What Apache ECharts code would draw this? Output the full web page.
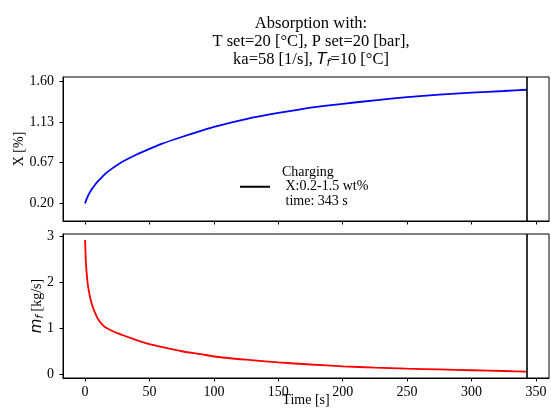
<!DOCTYPE html>
<html>
<head>
<meta charset="utf-8">
<script src="https://cdn.jsdelivr.net/npm/echarts@6/dist/echarts.min.js"></script>
<style>html,body{margin:0;padding:0;background:#fff;}#c{width:551px;height:416px;}</style>
</head>
<body>
<div id="c"></div>
<script>
const time = [0,0.5,1,2,3,4,5,6,8,10,13,16,20,25,30,40,50,60,75,90,100,125,150,175,200,225,250,275,300,325,343];
const xPct = [0.20,0.225,0.245,0.28,0.31,0.335,0.36,0.38,0.42,0.455,0.50,0.545,0.59,0.64,0.685,0.76,0.825,0.885,0.96,1.03,1.075,1.165,1.235,1.295,1.34,1.38,1.415,1.445,1.468,1.486,1.50];
const mf = [2.93,2.50,2.28,1.98,1.80,1.66,1.55,1.46,1.32,1.20,1.09,1.015,0.955,0.89,0.84,0.74,0.65,0.585,0.495,0.43,0.38,0.31,0.25,0.205,0.165,0.138,0.115,0.097,0.08,0.063,0.05];
const timeTicks = [0,50,100,150,200,250,300,350];
const xPctTicks = [0.2,0.66667,1.13333,1.6];
const xPctTickLabels = ['0.20','0.67','1.13','1.60'];
const mfTicks = [0,1,2,3];
const chargeEnd = 343;
const legendLabel = 'Charging\n X:0.2-1.5 wt%\n time: 343 s';

const FONT = 'Liberation Serif';
const tickStyle = {fontFamily: FONT, fontSize: 14, color: '#000'};
const chart = echarts.init(document.getElementById('c'), null, {renderer: 'canvas'});

function xAxisCfg(idx, showLabels) {
  return {
    type: 'value', gridIndex: idx, min: -17.15, max: 360.15,
    splitLine: {show: false},
    axisLine: {show: true, onZero: false, lineStyle: {color: '#000', width: 1}},
    axisTick: {show: true, inside: false, length: 3.5, lineStyle: {color: '#000', width: 1}, customValues: timeTicks},
    axisLabel: {show: showLabels, margin: 7, customValues: timeTicks, ...tickStyle},
    name: showLabels ? 'Time [s]' : '',
    nameLocation: 'middle', nameGap: 15, nameMoveOverlap: false,
    nameTextStyle: {fontFamily: FONT, fontSize: 14, color: '#000'}
  };
}

const option = {
  animation: false,
  backgroundColor: '#fff',
  title: {
    text: 'Absorption with:\nT set=20 [°C], P set=20 [bar],\nka=58 [1/s], {i|T}{s|f}=10 [°C]',
    left: 306, top: 10, textAlign: 'center',
    textStyle: {
      fontFamily: FONT, fontSize: 16.5, fontWeight: 'normal', color: '#000', lineHeight: 18,
      rich: {
        i: {fontFamily: 'DejaVu Sans', fontStyle: 'italic', fontSize: 15.5, lineHeight: 18, color: '#000'},
        s: {fontFamily: 'DejaVu Sans', fontStyle: 'italic', fontSize: 11, lineHeight: 18, verticalAlign: 'bottom', padding: [6,0,0,0], color: '#000'}
      }
    }
  },
  legend: {
    data: [legendLabel],
    left: 240, top: 165, padding: 0,
    icon: 'rect', itemWidth: 30, itemHeight: 2,
    textStyle: {fontFamily: FONT, fontSize: 14, lineHeight: 14.5, color: '#000', padding: [0,0,0,7]},
    selectedMode: false
  },
  grid: [
    {left: 63, top: 77, width: 486, height: 144, show: true, borderColor: '#000', borderWidth: 1, backgroundColor: 'transparent'},
    {left: 63, top: 234, width: 486, height: 144, show: true, borderColor: '#000', borderWidth: 1, backgroundColor: 'transparent'}
  ],
  xAxis: [xAxisCfg(0, false), xAxisCfg(1, true)],
  yAxis: [
    {
      type: 'value', gridIndex: 0, min: 0, max: 1.646,
      splitLine: {show: false},
      axisLine: {show: true, onZero: false, lineStyle: {color: '#000'}},
      axisTick: {show: true, length: 3.5, lineStyle: {color: '#000'}, customValues: xPctTicks},
      axisLabel: {margin: 9, customValues: xPctTicks, ...tickStyle,
        formatter: function (v) {
          let best = 0;
          for (let i = 0; i < xPctTicks.length; i++) if (Math.abs(xPctTicks[i] - v) < Math.abs(xPctTicks[best] - v)) best = i;
          return xPctTickLabels[best];
        }},
      name: 'X [%]', nameLocation: 'middle', nameGap: 37, nameMoveOverlap: false,
      nameTextStyle: {fontFamily: FONT, fontSize: 14, color: '#000'}
    },
    {
      type: 'value', gridIndex: 1, min: -0.09, max: 3.06,
      splitLine: {show: false},
      axisLine: {show: true, onZero: false, lineStyle: {color: '#000'}},
      axisTick: {show: true, length: 3.5, lineStyle: {color: '#000'}, customValues: mfTicks},
      axisLabel: {margin: 9, customValues: mfTicks, ...tickStyle},
      name: '{m|m}{f|f} [kg/s]', nameLocation: 'middle', nameGap: 18, nameMoveOverlap: false,
      nameTextStyle: {fontFamily: FONT, fontSize: 14, color: '#000',
        rich: {
          m: {fontFamily: 'DejaVu Sans', fontStyle: 'italic', fontSize: 15, color: '#000'},
          f: {fontFamily: 'DejaVu Sans', fontStyle: 'italic', fontSize: 10, color: '#000', verticalAlign: 'bottom', padding: [5,0,0,0]}
        }}
    }
  ],
  series: [
    {
      type: 'line', xAxisIndex: 0, yAxisIndex: 0, name: 'X',
      data: time.map((t, i) => [t, xPct[i]]),
      showSymbol: false, smooth: 0.15,
      lineStyle: {color: '#0000ff', width: 1.8}, itemStyle: {color: '#0000ff'}
    },
    {
      type: 'line', xAxisIndex: 1, yAxisIndex: 1, name: 'mf',
      data: time.map((t, i) => [t, mf[i]]),
      showSymbol: false, smooth: 0.15,
      lineStyle: {color: '#ff0000', width: 1.8}, itemStyle: {color: '#ff0000'}
    },
    {
      type: 'line', xAxisIndex: 0, yAxisIndex: 0, name: legendLabel,
      data: [], itemStyle: {color: '#000'}, lineStyle: {color: '#000'},
      markLine: {silent: true, symbol: 'none', label: {show: false},
        lineStyle: {color: '#000', width: 1.6, type: 'solid'},
        data: [{xAxis: chargeEnd}]}
    },
    {
      type: 'line', xAxisIndex: 1, yAxisIndex: 1, name: 'end2',
      data: [], itemStyle: {color: '#000'},
      markLine: {silent: true, symbol: 'none', label: {show: false},
        lineStyle: {color: '#000', width: 1.6, type: 'solid'},
        data: [{xAxis: chargeEnd}]}
    }
  ]
};
chart.setOption(option);
</script>
</body>
</html>
